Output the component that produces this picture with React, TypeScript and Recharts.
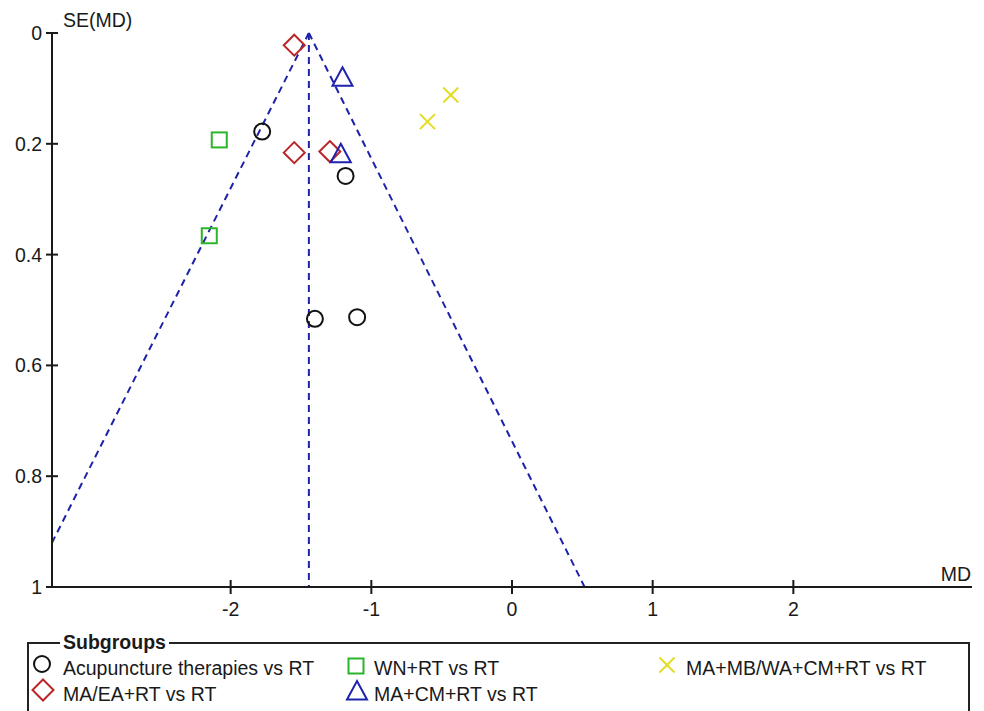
import React from 'react';
import { ScatterChart, Scatter, XAxis, YAxis, ReferenceLine } from 'recharts';

// study points (MD vs SE(MD))
const acupunctureVsRT = [
  { md: -1.776, se: 0.178 },
  { md: -1.183, se: 0.258 },
  { md: -1.401, se: 0.516 },
  { md: -1.101, se: 0.513 },
];
const wnVsRT = [
  { md: -2.081, se: 0.193 },
  { md: -2.152, se: 0.366 },
];
const maEaVsRT = [
  { md: -1.548, se: 0.022 },
  { md: -1.548, se: 0.216 },
  { md: -1.295, se: 0.214 },
];
const maCmVsRT = [
  { md: -1.205, se: 0.08 },
  { md: -1.217, se: 0.218 },
];
const maMbWaVsRT = [
  { md: -0.435, se: 0.112 },
  { md: -0.601, se: 0.16 },
];

// funnel (pooled estimate and pseudo 95% limits)
const funnelApex = { md: -1.444, se: 0 };
const funnelBase = { md: -1.444, se: 1 };
const funnelLeftEnd = { md: -3.27, se: 0.92 };
const funnelRightEnd = { md: 0.516, se: 1 };

const xTicks = [-2, -1, 0, 1, 2];
const yTicks = [0, 0.2, 0.4, 0.6, 0.8, 1];
const xDomain = [-3.27, 3.27];
const yDomain = [0, 1];

const FONT = "'Liberation Sans', Arial, sans-serif";
const INK = '#1a1a1a';
const FUNNEL = '#1f22a6';
const C_BLACK = '#111111';
const C_GREEN = '#2bb52b';
const C_RED = '#bb2528';
const C_BLUE = '#1f22ad';
const C_YELLOW = '#e2dc24';

const circleShape = (cx: number, cy: number) => (
  <circle cx={cx} cy={cy} r={8} fill="none" stroke={C_BLACK} strokeWidth={2} />
);
const squareShape = (cx: number, cy: number) => (
  <rect x={cx - 7.5} y={cy - 7.5} width={15} height={15} fill="none" stroke={C_GREEN} strokeWidth={2} />
);
const diamondShape = (cx: number, cy: number) => (
  <polygon
    points={`${cx},${cy - 10.5} ${cx + 10.5},${cy} ${cx},${cy + 10.5} ${cx - 10.5},${cy}`}
    fill="none"
    stroke={C_RED}
    strokeWidth={2}
  />
);
const triangleShape = (cx: number, cy: number) => (
  <polygon
    points={`${cx},${cy - 10} ${cx + 10},${cy + 8.5} ${cx - 10},${cy + 8.5}`}
    fill="none"
    stroke={C_BLUE}
    strokeWidth={2}
  />
);
const crossShape = (cx: number, cy: number) => (
  <g stroke={C_YELLOW} strokeWidth={2}>
    <line x1={cx - 7.5} y1={cy - 7.5} x2={cx + 7.5} y2={cy + 7.5} />
    <line x1={cx - 7.5} y1={cy + 7.5} x2={cx + 7.5} y2={cy - 7.5} />
  </g>
);

const XTick = ({ x, y, payload }: any) => (
  <g>
    <line x1={x} x2={x} y1={y - 7} y2={y + 7} stroke={INK} strokeWidth={2} />
    <text x={x} y={y + 29} textAnchor="middle" fontSize={19.5} fontFamily={FONT} fill={INK}>
      {payload.value}
    </text>
  </g>
);

const YTick = ({ x, y, payload }: any) => (
  <g>
    <line x1={x - 6} x2={x + 6} y1={y} y2={y} stroke={INK} strokeWidth={2} />
    <text x={x - 10} y={y + 7} textAnchor="end" fontSize={19.5} fontFamily={FONT} fill={INK}>
      {payload.value}
    </text>
  </g>
);

const legendItems = [
  { label: 'Acupuncture therapies vs RT', shape: circleShape, sx: 42, sy: 664, tx: 63, ty: 657 },
  { label: 'WN+RT vs RT', shape: squareShape, sx: 356, sy: 666, tx: 374, ty: 657 },
  { label: 'MA+MB/WA+CM+RT vs RT', shape: crossShape, sx: 667, sy: 665, tx: 686, ty: 657 },
  { label: 'MA/EA+RT vs RT', shape: diamondShape, sx: 43, sy: 690, tx: 63, ty: 683 },
  { label: 'MA+CM+RT vs RT', shape: triangleShape, sx: 357, sy: 691, tx: 374, ty: 683 },
];

export default function App() {
  const segLine = (a: { md: number; se: number }, b: { md: number; se: number }) => (
    <ReferenceLine
      segment={[{ x: a.md, y: a.se }, { x: b.md, y: b.se }]}
      stroke={FUNNEL}
      strokeWidth={2}
      strokeDasharray="7 5"
      ifOverflow="visible"
    />
  );

  return (
    <div
      style={{
        position: 'absolute',
        left: 0,
        top: 0,
        width: 984,
        height: 711,
        overflow: 'hidden',
        background: '#fff',
        fontFamily: FONT,
        color: INK,
      }}
    >
      <ScatterChart width={984} height={630} margin={{ top: 33, right: 12, left: 0, bottom: 0 }}>
        <XAxis
          type="number"
          dataKey="md"
          domain={xDomain}
          ticks={xTicks}
          allowDataOverflow
          height={43}
          tickSize={0}
          tickMargin={0}
          tickLine={false}
          tick={<XTick />}
          axisLine={{ stroke: INK, strokeWidth: 2 }}
          label={{
            content: ({ viewBox }: any) => (
              <text
                x={viewBox.x + viewBox.width - 1}
                y={viewBox.y - 6}
                textAnchor="end"
                fontSize={19.5}
                fontFamily={FONT}
                fill={INK}
              >
                MD
              </text>
            ),
          }}
        />
        <YAxis
          type="number"
          dataKey="se"
          domain={yDomain}
          ticks={yTicks}
          reversed
          allowDataOverflow
          width={52}
          tickSize={0}
          tickMargin={0}
          tickLine={false}
          tick={<YTick />}
          axisLine={{ stroke: INK, strokeWidth: 2 }}
          label={{
            content: ({ viewBox }: any) => (
              <text
                x={viewBox.x + viewBox.width + 11}
                y={viewBox.y - 6}
                textAnchor="start"
                fontSize={19.5}
                fontFamily={FONT}
                fill={INK}
              >
                SE(MD)
              </text>
            ),
          }}
        />
        {segLine(funnelApex, funnelLeftEnd)}
        {segLine(funnelApex, funnelRightEnd)}
        {segLine(funnelApex, funnelBase)}
        <Scatter data={acupunctureVsRT} isAnimationActive={false} shape={(p: any) => circleShape(p.cx, p.cy)} />
        <Scatter data={wnVsRT} isAnimationActive={false} shape={(p: any) => squareShape(p.cx, p.cy)} />
        <Scatter data={maEaVsRT} isAnimationActive={false} shape={(p: any) => diamondShape(p.cx, p.cy)} />
        <Scatter data={maCmVsRT} isAnimationActive={false} shape={(p: any) => triangleShape(p.cx, p.cy)} />
        <Scatter data={maMbWaVsRT} isAnimationActive={false} shape={(p: any) => crossShape(p.cx, p.cy)} />
      </ScatterChart>

      {/* legend box */}
      <div
        style={{
          position: 'absolute',
          left: 27,
          top: 642,
          width: 943,
          height: 100,
          border: '2px solid #222',
          boxSizing: 'border-box',
        }}
      />
      <div
        style={{
          position: 'absolute',
          left: 60,
          top: 631,
          padding: '0 3px',
          background: '#fff',
          fontWeight: 'bold',
          fontSize: 19.5,
          lineHeight: '22px',
        }}
      >
        Subgroups
      </div>
      {legendItems.map((it) => (
        <React.Fragment key={it.label}>
          <svg
            style={{ position: 'absolute', left: it.sx - 14, top: it.sy - 14 }}
            width={28}
            height={28}
          >
            {it.shape(14, 14)}
          </svg>
          <div
            style={{
              position: 'absolute',
              left: it.tx,
              top: it.ty,
              fontSize: 19.5,
              lineHeight: '22px',
              whiteSpace: 'nowrap',
            }}
          >
            {it.label}
          </div>
        </React.Fragment>
      ))}
    </div>
  );
}
